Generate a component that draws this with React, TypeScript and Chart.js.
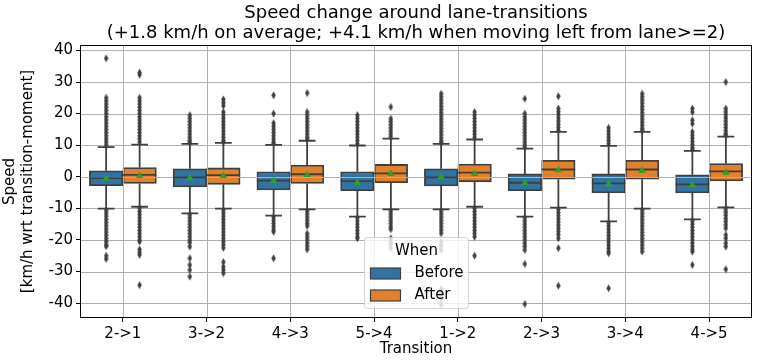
import React, { useEffect, useRef } from 'react';
import { Chart, registerables } from 'chart.js';

Chart.register(...registerables);

// ---------------- data ----------------
const categories = ['2->1', '3->2', '4->3', '5->4', '1->2', '2->3', '3->4', '4->5'];
const seriesNames = ['Before', 'After'];
const yTickStep = 10;
const yMin = -44.4;
const yMax = 41.4;

const beforeQ1 = [-2.8, -3.2, -4.2, -4.4, -2.9, -4.4, -5.1, -5.1];
const beforeMedian = [-0.4, -0.2, -1.2, -1.4, -0.2, -1.9, -2.1, -2.4];
const beforeQ3 = [1.9, 2.5, 1.6, 1.6, 2.5, 0.9, 0.9, 0.6];
const beforeLow = [-10.1, -11.6, -12.3, -12.6, -10.3, -12.6, -14.1, -13.5];
const beforeHigh = [9.4, 10.4, 10.1, 9.9, 10.4, 8.9, 9.8, 8.2];
const beforeMean = [-0.5, -0.5, -1.2, -1.8, -0.1, -2.0, -2.3, -2.6];
const beforeOutliers = [
  [37.5, 25, 24, 23, 22, 21, 20, 19, 18, 17, 16, 15, 14, 13, 12, 11, 10, -10.6, -11.5, -12.5, -13.5, -14.5, -15.5, -16.5, -17.5, -18.5, -19.5, -20.5, -21.5, -22, -25, -26],
  [19.5, 18.5, 17.5, 16.5, 15.5, 14.5, 13.5, 12.5, 11.5, 10.9, -12, -13, -14, -15, -16, -17, -18, -19, -20, -20.8, -22.1, -25.8, -27.9, -29.5, -31.6],
  [25.8, 20, 17, 16, 15, 14, 13, 12, 11, 10.6, -12.8, -13.8, -14.8, -15.8, -16.8, -17.4, -25.8],
  [19.5, 18.5, 17.5, 16.5, 15.5, 14.5, 13.5, 12.5, 11.5, 10.5, -13, -14, -15, -16, -17, -18, -19, -19.5],
  [26.3, 25.3, 24.3, 23.3, 22.3, 21.3, 20.3, 19.3, 18.3, 17.3, 16.3, 15.3, 14.3, 13.3, 12.3, 11.3, 10.8, -10.8, -11.8, -12.8, -13.8, -14.8, -15.8, -16.8, -17.9, -20.6, -21.8, -23.2, -35.5, -37, -38.5, -40.5],
  [24.7, 20, 19, 18, 17, 16, 15, 14, 13, 12, 11, 10, 9.4, -13, -14, -15, -16, -17, -18, -19, -20, -21, -22, -23.2, -27.6, -40.3],
  [15.5, 14.5, 13.5, 12.5, 11.5, 10.5, -14.6, -15.6, -16.6, -17.6, -18.6, -19.6, -20.6, -21.6, -22.6, -23.6, -24.2, -35.3],
  [21.6, 20.5, 17.9, 16.8, 14.2, 13.2, 12.2, 11.2, 10.2, 9.2, 8.7, -14, -15, -16, -17, -18, -19, -20, -21, -22, -23, -23.7, -27.9],
];

const afterQ1 = [-2.1, -2.4, -2.1, -1.9, -1.6, -0.8, -0.8, -1.3];
const afterMedian = [0.6, 0.5, 0.8, 1.1, 1.3, 2.3, 2.3, 1.7];
const afterQ3 = [2.9, 2.8, 3.7, 3.9, 4.0, 5.2, 5.2, 4.2];
const afterLow = [-9.5, -10.1, -10.3, -10.3, -9.5, -9.8, -10.1, -9.7];
const afterHigh = [10.2, 10.7, 11.4, 12.1, 11.8, 14.2, 14.2, 12.7];
const afterMean = [0.3, 0.3, 0.6, 0.9, 0.9, 2.1, 1.9, 1.3];
const afterOutliers = [
  [33, 32.3, 25, 24, 23, 22, 21, 20, 19, 18, 17, 16, 15, 14, 13, 12, 11, -10, -11, -12, -13, -14, -15, -16, -17, -18, -19, -20, -20.5, -23, -24, -24.7, -34.3],
  [24.5, 23.5, 22.5, 20.5, 19.5, 18.5, 17.5, 16.5, 15.5, 14.5, 13.5, 12.5, 11.5, 11, -10.6, -11.5, -12.5, -13.5, -14.5, -15.5, -16.5, -17.5, -18.5, -19.5, -20.5, -21.5, -22.5, -27, -28.5, -29.5, -30.5],
  [26.5, 20.5, 19.5, 18.5, 17.5, 16.5, 15.5, 14.5, 13.5, 12.5, 11.9, -10.8, -11.8, -12.8, -13.8, -14.8, -15.6, -18, -19, -20, -21, -22, -23],
  [22.1, 18.4, 17.5, 16.5, 15.5, 14.5, 13.5, 12.6, -10.8, -11.8, -12.8, -13.8, -14.8, -15.8, -16.6, -19.5, -20.5, -21.5, -22.6],
  [20.5, 19.5, 18.5, 17.5, 16.5, 15.5, 14.5, 13.5, 12.5, -10, -11, -12, -13, -14, -15, -16, -17, -18, -19, -25],
  [25.5, 21.6, 20.6, 19.6, 18.6, 17.6, 16.6, 15.6, 14.7, -10.3, -11.3, -12.3, -13.3, -14.3, -15.3, -16.3, -17.3, -18.3, -19.5, -22.6, -34.5],
  [26.3, 25.3, 24.3, 23.3, 22.3, 21.3, 20.3, 19.3, 18.3, 17.3, 16.3, 15.3, 14.7, -10.6, -11.6, -12.6, -13.6, -14.6, -15.6, -16.6, -17.6, -18.6, -19.6, -20.6, -21.6, -22.6, -23.7],
  [30, 21.6, 20.6, 19.6, 18.6, 17.6, 16.6, 15.6, 14.6, 13.6, 13.2, -10.2, -11.2, -12.2, -13.2, -14.2, -15.2, -16.3, -18.4, -19.5, -21, -22.1, -29.3],
];

const titleLines = [
  'Speed change around lane-transitions',
  '(+1.8 km/h on average; +4.1 km/h when moving left from lane>=2)',
];
const xTitle = 'Transition';
const yTitleLines = ['Speed', '[km/h wrt transition-moment]'];
const legendTitle = 'When';

// ---------------- styles ----------------
const BLUE = '#3274a1';
const ORANGE = '#e1812c';
const GRAY = '#3f3f3f';
const GREEN = '#2ca02c';
const GRID = '#b0b0b0';
const FONT = "'DejaVu Sans', sans-serif";
const OFFSETS = [-0.2, 0.2];
const HALF_BOX = 0.2;
const HALF_CAP = 0.1;
const LW = 1.8;

function makeDiamond(): HTMLCanvasElement {
  const c = document.createElement('canvas');
  c.width = 5;
  c.height = 9;
  const ctx = c.getContext('2d')!;
  ctx.fillStyle = GRAY;
  ctx.beginPath();
  ctx.moveTo(2.5, 0.6);
  ctx.lineTo(4.7, 4.5);
  ctx.lineTo(2.5, 8.4);
  ctx.lineTo(0.3, 4.5);
  ctx.closePath();
  ctx.fill();
  return c;
}

type Pt = { x: number; y: number | null };

function whiskerPoints(lo: number[], q1: number[], q3: number[], hi: number[], off: number): Pt[] {
  const pts: Pt[] = [];
  categories.forEach((_, i) => {
    const x = i + off;
    pts.push({ x, y: q3[i] }, { x, y: hi[i] }, { x, y: null });
    pts.push({ x, y: q1[i] }, { x, y: lo[i] }, { x, y: null });
    pts.push({ x: x - HALF_CAP, y: hi[i] }, { x: x + HALF_CAP, y: hi[i] }, { x, y: null });
    pts.push({ x: x - HALF_CAP, y: lo[i] }, { x: x + HALF_CAP, y: lo[i] }, { x, y: null });
  });
  return pts;
}

function medianPoints(med: number[], off: number): Pt[] {
  const pts: Pt[] = [];
  categories.forEach((_, i) => {
    const x = i + off;
    pts.push({ x: x - HALF_BOX, y: med[i] }, { x: x + HALF_BOX, y: med[i] }, { x, y: null });
  });
  return pts;
}

function outlierPoints(out: number[][], off: number): Pt[] {
  const pts: Pt[] = [];
  out.forEach((vals, i) => vals.forEach((v) => pts.push({ x: i + off, y: v })));
  return pts;
}

function meanPoints(mean: number[], off: number): Pt[] {
  return mean.map((v, i) => ({ x: i + off, y: v }));
}

function boxData(q1: number[], q3: number[], off: number) {
  return categories.map((_, i) => ({ x: i + off, y: [q1[i], q3[i]] }));
}

export default function App() {
  const ref = useRef<HTMLCanvasElement>(null);

  useEffect(() => {
    if (!ref.current) return;
    const diamond = makeDiamond();

    const groups = [
      { name: seriesNames[0], color: BLUE, q1: beforeQ1, med: beforeMedian, q3: beforeQ3, lo: beforeLow, hi: beforeHigh, mean: beforeMean, out: beforeOutliers, off: OFFSETS[0] },
      { name: seriesNames[1], color: ORANGE, q1: afterQ1, med: afterMedian, q3: afterQ3, lo: afterLow, hi: afterHigh, mean: afterMean, out: afterOutliers, off: OFFSETS[1] },
    ];

    const datasets: any[] = [];
    groups.forEach((g) => {
      datasets.push({
        type: 'bar',
        label: g.name,
        data: boxData(g.q1, g.q3, g.off),
        backgroundColor: g.color,
        borderColor: GRAY,
        borderWidth: LW,
        borderSkipped: false,
        grouped: false,
        categoryPercentage: 1.0,
        barPercentage: 1.0,
        xAxisID: 'xl',
        yAxisID: 'y',
        order: 10,
      });
    });
    groups.forEach((g) => {
      datasets.push({
        type: 'line',
        label: g.name + ' whiskers',
        data: whiskerPoints(g.lo, g.q1, g.q3, g.hi, g.off),
        borderColor: GRAY,
        borderWidth: LW,
        pointRadius: 0,
        spanGaps: false,
        fill: false,
        xAxisID: 'xl',
        yAxisID: 'y',
        order: 5,
      });
      datasets.push({
        type: 'line',
        label: g.name + ' median',
        data: medianPoints(g.med, g.off),
        borderColor: GRAY,
        borderWidth: LW,
        pointRadius: 0,
        spanGaps: false,
        fill: false,
        xAxisID: 'xl',
        yAxisID: 'y',
        order: 4,
      });
      datasets.push({
        type: 'scatter',
        label: g.name + ' outliers',
        data: outlierPoints(g.out, g.off),
        pointStyle: diamond,
        pointRadius: 3,
        xAxisID: 'xl',
        yAxisID: 'y',
        order: 3,
      });
      datasets.push({
        type: 'scatter',
        label: g.name + ' mean',
        data: meanPoints(g.mean, g.off),
        pointStyle: 'triangle',
        pointRadius: 4.4,
        backgroundColor: GREEN,
        borderColor: GREEN,
        borderWidth: 0,
        xAxisID: 'xl',
        yAxisID: 'y',
        order: 1,
      });
    });

    let gridDrawn = false;
    const drawGrid = (chart: any) => {
      const { ctx, chartArea: a } = chart;
      const ys = chart.scales.y;
      const xl = chart.scales.xl;
      ctx.save();
      ctx.strokeStyle = GRID;
      ctx.lineWidth = 1;
      ctx.beginPath();
      ys.ticks.forEach((t: any) => {
        const py = Math.round(ys.getPixelForValue(t.value)) + 0.5;
        ctx.moveTo(a.left, py);
        ctx.lineTo(a.right, py);
      });
      categories.forEach((_, i) => {
        const px = Math.round(xl.getPixelForValue(i)) + 0.5;
        ctx.moveTo(px, a.top);
        ctx.lineTo(px, a.bottom);
      });
      ctx.stroke();
      ctx.restore();
    };

    const boxPlugin = {
      id: 'boxExtras',
      beforeDatasetsDraw() {
        gridDrawn = false;
      },
      beforeDatasetDraw(chart: any, args: any) {
        if (!gridDrawn && args.meta.type !== 'bar') {
          drawGrid(chart);
          gridDrawn = true;
        }
      },
      afterDatasetsDraw(chart: any) {
        if (!gridDrawn) {
          drawGrid(chart);
          gridDrawn = true;
        }
        const { ctx, chartArea: a } = chart;
        ctx.save();
        ctx.strokeStyle = '#000';
        ctx.lineWidth = 1;
        ctx.strokeRect(Math.round(a.left) - 0.5, Math.round(a.top) - 0.5, Math.round(a.right - a.left) + 1, Math.round(a.bottom - a.top) + 1);
        ctx.restore();
      },
      afterDraw(chart: any) {
        const { ctx, chartArea: a } = chart;
        const w = 104;
        const h = 71;
        const cx = (a.left + a.right) / 2;
        const x0 = Math.round(cx - w / 2) + 0.5;
        const y0 = Math.round(a.bottom - 9 - h) + 0.5;
        ctx.save();
        const r = 3;
        ctx.beginPath();
        ctx.moveTo(x0 + r, y0);
        ctx.lineTo(x0 + w - r, y0);
        ctx.arcTo(x0 + w, y0, x0 + w, y0 + r, r);
        ctx.lineTo(x0 + w, y0 + h - r);
        ctx.arcTo(x0 + w, y0 + h, x0 + w - r, y0 + h, r);
        ctx.lineTo(x0 + r, y0 + h);
        ctx.arcTo(x0, y0 + h, x0, y0 + h - r, r);
        ctx.lineTo(x0, y0 + r);
        ctx.arcTo(x0, y0, x0 + r, y0, r);
        ctx.closePath();
        ctx.fillStyle = 'rgba(255,255,255,0.8)';
        ctx.fill();
        ctx.strokeStyle = 'rgba(204,204,204,0.8)';
        ctx.lineWidth = 1;
        ctx.stroke();
        ctx.font = `15px ${FONT}`;
        ctx.fillStyle = '#000';
        ctx.textBaseline = 'middle';
        ctx.textAlign = 'center';
        ctx.fillText(legendTitle, x0 + w / 2, y0 + 14);
        ctx.textAlign = 'left';
        groups.forEach((g, k) => {
          const cy = y0 + 36 + k * 22;
          ctx.fillStyle = g.color;
          ctx.fillRect(x0 + 6, cy - 5.5, 30, 11);
          ctx.strokeStyle = GRAY;
          ctx.lineWidth = 1.2;
          ctx.strokeRect(x0 + 6, cy - 5.5, 30, 11);
          ctx.fillStyle = '#000';
          ctx.fillText(g.name, x0 + 50, cy);
        });
        ctx.restore();
      },
    };

    const chart = new Chart(ref.current, {
      type: 'bar',
      data: { labels: categories, datasets },
      plugins: [boxPlugin],
      options: {
        animation: false,
        responsive: false,
        devicePixelRatio: 1,
        layout: { padding: { left: 0, right: 6, top: 0, bottom: 0 } },
        plugins: {
          legend: { display: false },
          tooltip: { enabled: false },
          title: {
            display: true,
            text: titleLines,
            color: '#000',
            font: { family: FONT, size: 18, weight: 'normal', lineHeight: 1.15 },
            padding: { top: 2.6, bottom: 2 },
            fullSize: false,
          },
        },
        scales: {
          x: {
            type: 'category',
            labels: categories,
            offset: true,
            grid: { display: true, drawOnChartArea: false, drawTicks: true, tickLength: 5, tickColor: '#000', tickWidth: 1, offset: false },
            border: { display: false },
            ticks: { color: '#000', font: { family: FONT, size: 15 }, padding: 3, maxRotation: 0 },
            title: { display: true, text: xTitle, color: '#000', font: { family: FONT, size: 15, lineHeight: 1.2 }, padding: { top: 0, bottom: 5 } },
            afterFit: (s: any) => { s.height = 46; },
          },
          xl: {
            type: 'linear',
            display: false,
            offset: false,
            grid: { offset: false },
            ticks: { stepSize: 1 },
            min: -0.5,
            max: 7.5,
          },
          y: {
            type: 'linear',
            min: yMin,
            max: yMax,
            grid: { display: true, drawOnChartArea: false, drawTicks: true, tickLength: 5, tickColor: '#000', tickWidth: 1 },
            border: { display: false },
            ticks: { stepSize: yTickStep, includeBounds: false, color: '#000', font: { family: FONT, size: 15 }, padding: 3 },
            title: { display: true, text: yTitleLines, color: '#000', font: { family: FONT, size: 15, lineHeight: 1.2 }, padding: { top: 1, bottom: 0 } },
            afterFit: (s: any) => { s.width = 81; },
          },
        },
      } as any,
    });
    return () => chart.destroy();
  }, []);

  return (
    <div style={{ position: 'absolute', left: 0, top: 0, width: 757, height: 363, background: '#fff' }}>
      <canvas ref={ref} width={757} height={363} style={{ width: 757, height: 363, display: 'block' }} />
    </div>
  );
}
